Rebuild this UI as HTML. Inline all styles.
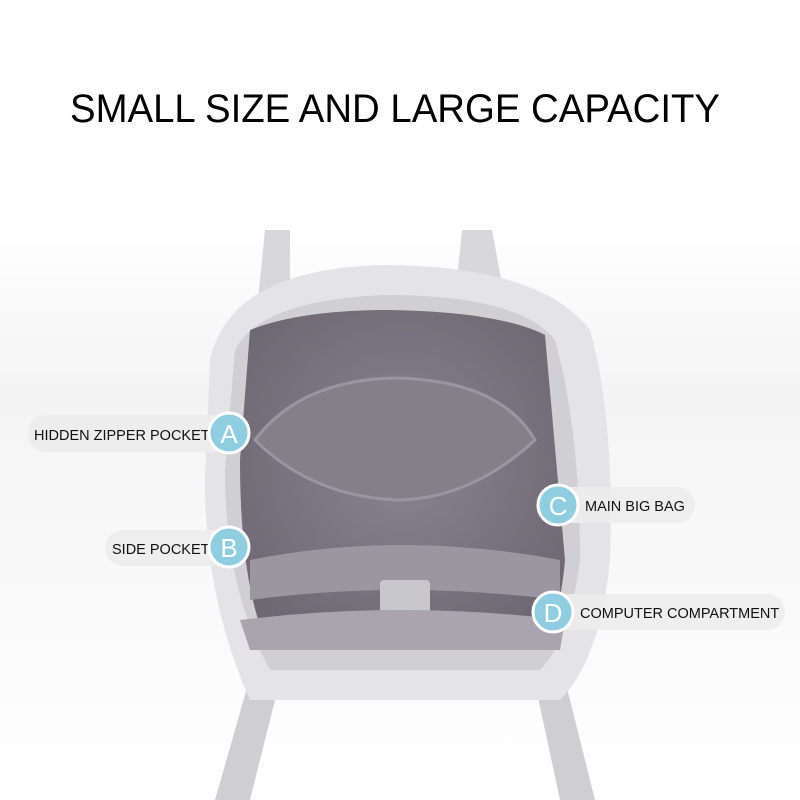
<!DOCTYPE html>
<html><head><style>
body{margin:0;background:#fff}
svg{display:block}
text{font-family:"Liberation Sans",sans-serif}
</style></head><body>
<svg width="800" height="800" viewBox="0 0 800 800">
<defs>
<linearGradient id="bg" x1="0" y1="0" x2="0" y2="1">
<stop offset="0" stop-color="#ffffff"/><stop offset="0.3" stop-color="#f4f4f4"/><stop offset="1" stop-color="#ffffff"/>
</linearGradient>
<radialGradient id="in" cx="0.5" cy="0.45" r="0.6">
<stop offset="0" stop-color="#8a8490"/><stop offset="1" stop-color="#6e6873"/>
</radialGradient>
</defs>
<rect width="800" height="800" fill="#fff"/>
<rect x="0" y="220" width="800" height="580" fill="url(#bg)"/>
<text x="395" y="122" font-size="40" text-anchor="middle" fill="#000" textLength="650" lengthAdjust="spacingAndGlyphs">SMALL SIZE AND LARGE CAPACITY</text>
<!-- straps top -->
<path d="M258 300 L265 230 L290 230 L290 300 Z" fill="#d8d8da"/>
<path d="M455 300 L462 230 L492 230 L505 300 Z" fill="#d8d8da"/>
<!-- straps bottom -->
<path d="M255 660 L215 800 L250 800 L285 660 Z" fill="#cfcfd2"/>
<path d="M530 660 L560 800 L595 800 L560 660 Z" fill="#cfcfd2"/>
<!-- bag body -->
<path d="M210 360 Q230 270 380 265 Q540 265 590 330 Q615 420 610 560 Q600 660 560 700 L250 700 Q205 600 205 480 Z" fill="#e4e4e6"/>
<path d="M235 350 Q260 300 385 295 Q520 295 555 340 Q580 430 580 560 Q570 640 540 670 L270 670 Q225 590 225 470 Z" fill="#d0d0d3"/>
<!-- interior -->
<path d="M250 330 Q300 310 390 310 Q500 312 545 335 L565 560 Q560 620 540 650 L270 650 Q240 590 240 460 Z" fill="url(#in)"/>
<path d="M255 440 Q300 380 395 378 Q500 380 535 440 Q470 500 395 500 Q310 495 255 440 Z" fill="#857f89" stroke="#9a95a0" stroke-width="3"/>
<path d="M250 560 Q400 530 560 560 L560 600 Q400 580 250 600 Z" fill="#9b96a0"/>
<rect x="380" y="580" width="50" height="70" rx="4" fill="#c8c8cc"/>
<path d="M240 620 Q400 600 565 620 L560 650 L250 650 Z" fill="#a9a4ad"/>
<!-- labels -->
<g>
<rect x="28" y="415" width="205" height="37" rx="18" fill="#ececec" opacity="0.9"/>
<text x="34" y="440" font-size="14.5" fill="#111">HIDDEN ZIPPER POCKET</text>
<circle cx="229" cy="433" r="20" fill="#8fcde0" stroke="#fff" stroke-width="3"/>
<text x="229" y="443" font-size="26" fill="#fff" text-anchor="middle">A</text>

<rect x="105" y="530" width="125" height="36" rx="18" fill="#ececec" opacity="0.9"/>
<text x="112" y="554" font-size="14.5" fill="#111">SIDE POCKET</text>
<circle cx="229" cy="547" r="20" fill="#8fcde0" stroke="#fff" stroke-width="3"/>
<text x="229" y="557" font-size="26" fill="#fff" text-anchor="middle">B</text>

<rect x="555" y="487" width="140" height="36" rx="18" fill="#ececec" opacity="0.9"/>
<text x="585" y="511" font-size="14.5" fill="#111">MAIN BIG BAG</text>
<circle cx="558" cy="505" r="20" fill="#8fcde0" stroke="#fff" stroke-width="3"/>
<text x="558" y="515" font-size="26" fill="#fff" text-anchor="middle">C</text>

<rect x="550" y="594" width="235" height="36" rx="18" fill="#ececec" opacity="0.9"/>
<text x="580" y="618" font-size="14.5" fill="#111">COMPUTER COMPARTMENT</text>
<circle cx="553" cy="612" r="20" fill="#8fcde0" stroke="#fff" stroke-width="3"/>
<text x="553" y="622" font-size="26" fill="#fff" text-anchor="middle">D</text>
</g>
</svg>
</body></html>
